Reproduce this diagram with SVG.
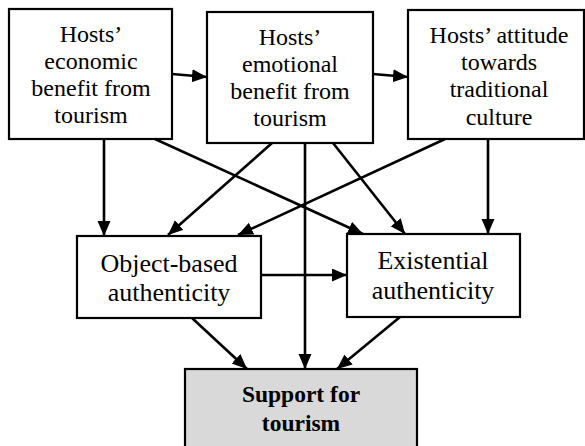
<svg xmlns="http://www.w3.org/2000/svg" width="585" height="446" viewBox="0 0 585 446">
<defs>
<marker id="ah" markerUnits="userSpaceOnUse" markerWidth="16" markerHeight="14" refX="15" refY="6.5" orient="auto">
<path d="M0,0 L15,6.5 L0,13 z" fill="#000"/>
</marker>
<style>
.box{fill:#fff;stroke:#000;stroke-width:2.2}
.gray{fill:#d9d9d9;stroke:#000;stroke-width:2.2}
text{font-family:"Liberation Serif","Times New Roman",Times,Tinos,"Noto Serif","DejaVu Serif",serif;font-size:24px;fill:#000;text-anchor:middle}
.m{font-size:26px}
.b{font-weight:bold;font-size:23.5px}
.c line{stroke:#000;stroke-width:2.6;marker-end:url(#ah)}
</style>
</defs>
<rect width="585" height="446" fill="#fff"/>
<g id="econ">
<rect class="box" x="9" y="9" width="163" height="130"/>
<text x="91" y="42">Hosts’</text>
<text x="91" y="69">economic</text>
<text x="91" y="96">benefit from</text>
<text x="91" y="123">tourism</text>
</g>
<g id="emo">
<rect class="box" x="207" y="12" width="166" height="131"/>
<text x="290" y="45">Hosts’</text>
<text x="290" y="72">emotional</text>
<text x="290" y="99">benefit from</text>
<text x="290" y="126">tourism</text>
</g>
<g id="att">
<rect class="box" x="408" y="10" width="176" height="129"/>
<text x="499" y="43">Hosts’ attitude</text>
<text x="499" y="70">towards</text>
<text x="499" y="97">traditional</text>
<text x="499" y="125">culture</text>
</g>
<g id="obj">
<rect class="box" x="77" y="236" width="184" height="82"/>
<text class="m" x="169" y="272">Object-based</text>
<text class="m" x="169" y="301">authenticity</text>
</g>
<g id="exi">
<rect class="box" x="347" y="234" width="173" height="83"/>
<text class="m" x="433" y="269">Existential</text>
<text class="m" x="433" y="299">authenticity</text>
</g>
<g id="sup">
<rect class="gray" x="185" y="369" width="232" height="90"/>
<text class="b" x="301" y="402">Support for</text>
<text class="b" x="301" y="431">tourism</text>
</g>
<g id="connectors" class="c">
<line x1="172" y1="74" x2="207" y2="77"/>
<line x1="373" y1="74" x2="408" y2="77"/>
<line x1="104" y1="139" x2="104" y2="236"/>
<line x1="155" y1="139" x2="363" y2="234"/>
<line x1="272" y1="143" x2="168" y2="235"/>
<line x1="305" y1="143" x2="305" y2="369"/>
<line x1="333" y1="143" x2="405" y2="234"/>
<line x1="445" y1="139" x2="238" y2="235"/>
<line x1="488" y1="139" x2="488" y2="234"/>
<line x1="261" y1="275" x2="347" y2="275"/>
<line x1="192" y1="318" x2="247" y2="369"/>
<line x1="400" y1="317" x2="337" y2="369"/>
</g>
</svg>
